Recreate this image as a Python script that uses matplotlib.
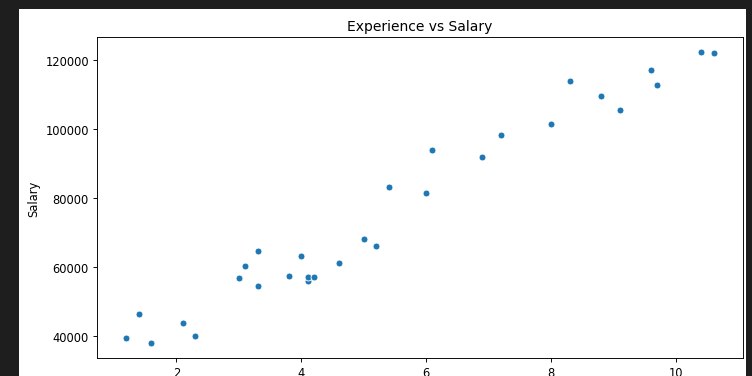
import matplotlib
matplotlib.use("Agg")
import matplotlib.pyplot as plt
from matplotlib.patches import Rectangle

years_experience = [1.2, 1.4, 1.6, 2.1, 2.3, 3.0, 3.1, 3.3, 3.3, 3.8,
                    4.0, 4.1, 4.1, 4.2, 4.6, 5.0, 5.2, 5.4, 6.0, 6.1,
                    6.9, 7.2, 8.0, 8.3, 8.8, 9.1, 9.6, 9.7, 10.4, 10.6]
salary = [39344, 46206, 37732, 43526, 39892, 56643, 60151, 54446, 64446, 57190,
          63219, 55795, 56958, 57082, 61112, 67939, 66030, 83089, 81364, 93941,
          91739, 98274, 101303, 113813, 109432, 105583, 116970, 112636, 122392, 121873]

W, H = 752, 377
DPI = 83
fig = plt.figure(figsize=(W / DPI, H / DPI), dpi=DPI, facecolor="#1e1e1e")
# white inner area of the screenshot
fig.patches.append(Rectangle((19 / W, 0), (746 - 19) / W, (H - 10) / H,
                             transform=fig.transFigure, facecolor="white",
                             edgecolor="none", zorder=-10))

left, right, top, bottom = 97, 743, 38, 359
ax = fig.add_axes([left / W, (H - bottom) / H, (right - left) / W, (bottom - top) / H])
ax.scatter(years_experience, salary, s=36, color="#1f77b4",
           edgecolor="white", linewidth=0.75, zorder=3)
ax.margins(0.05)
ax.set_title("Experience vs Salary", fontsize=12)
ax.set_ylabel("Salary", fontsize=10)
ax.tick_params(labelsize=10)

fig.savefig("out.png", dpi=DPI, facecolor=fig.get_facecolor())
